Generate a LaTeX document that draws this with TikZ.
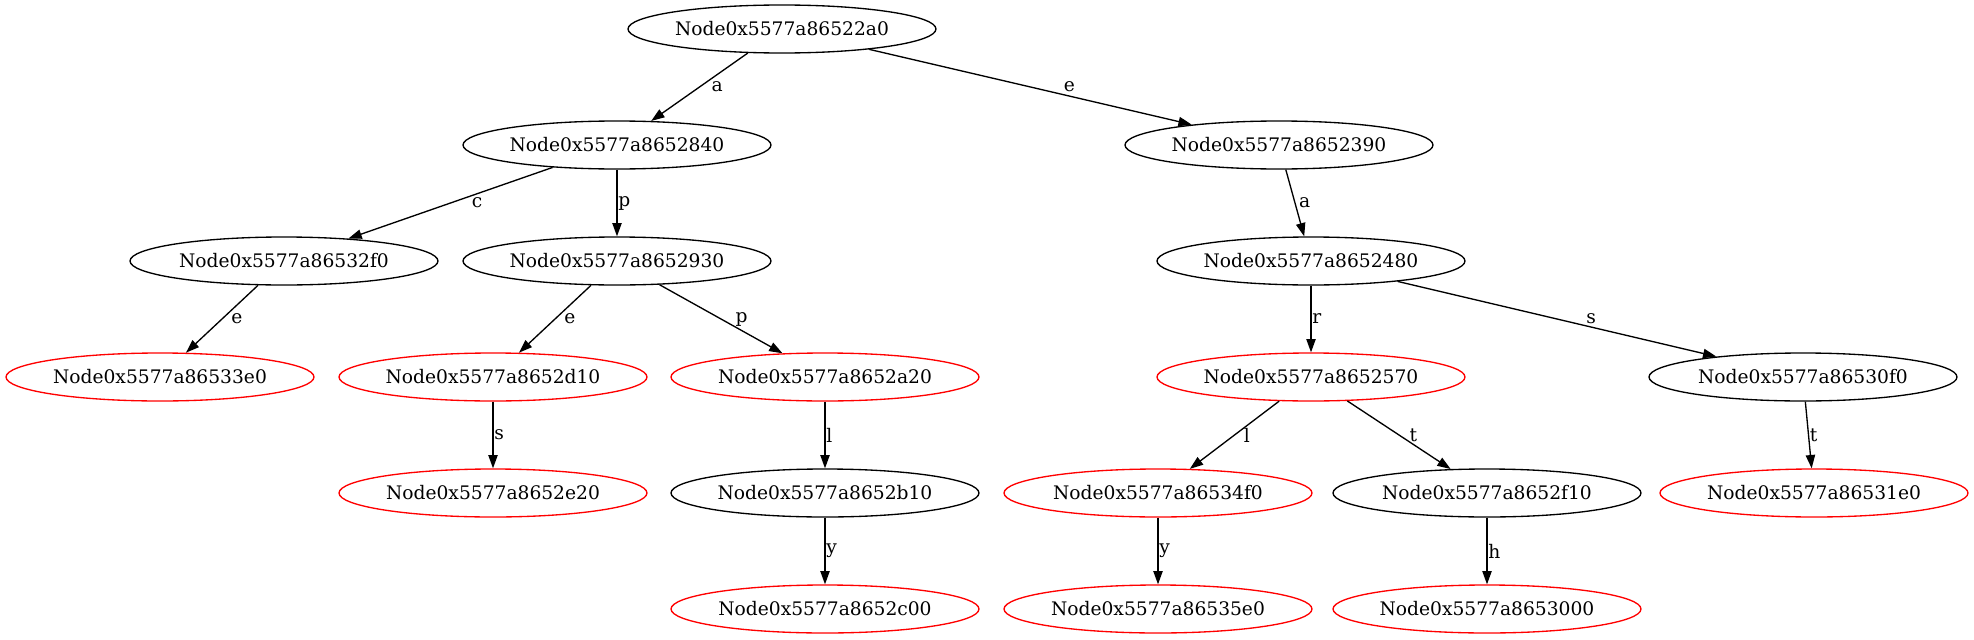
\documentclass[tikz,border=0pt]{standalone}
\usepackage{fontspec}
\setmainfont{DejaVu Serif}
\usetikzlibrary{arrows.meta,shapes.geometric}

\begin{document}
\begin{tikzpicture}[x=0.75pt,y=-0.75pt, every node/.style={font=\fontsize{14}{16}\selectfont},
 trie/.style={draw,ellipse,line width=1pt,minimum width=231pt,minimum height=36pt,inner sep=0pt},
 final/.style={trie,draw=red},
 link/.style={line width=1pt,-{Triangle[length=10pt,width=7pt]}},
 lbl/.style={right,inner sep=0.5pt}]
\useasboundingbox (0,0) rectangle (1974,639);
% rank 0
\node[trie] (n22a0) at (782,29) {Node0x5577a86522a0};
% rank 1
\node[trie] (n2840) at (617,145) {Node0x5577a8652840};
\node[trie] (n2390) at (1279,145) {Node0x5577a8652390};
% rank 2
\node[trie] (n32f0) at (284,261) {Node0x5577a86532f0};
\node[trie] (n2930) at (617,261) {Node0x5577a8652930};
\node[trie] (n2480) at (1311,261) {Node0x5577a8652480};
% rank 3
\node[final] (n33e0) at (160,377) {Node0x5577a86533e0};
\node[final] (n2d10) at (493,377) {Node0x5577a8652d10};
\node[final] (n2a20) at (825,377) {Node0x5577a8652a20};
\node[final] (n2570) at (1311,377) {Node0x5577a8652570};
\node[trie] (n30f0) at (1803,377) {Node0x5577a86530f0};
% rank 4
\node[final] (n2e20) at (493,493) {Node0x5577a8652e20};
\node[trie] (n2b10) at (825,493) {Node0x5577a8652b10};
\node[final] (n34f0) at (1158,493) {Node0x5577a86534f0};
\node[trie] (n2f10) at (1487,493) {Node0x5577a8652f10};
\node[final] (n31e0) at (1814,493) {Node0x5577a86531e0};
% rank 5
\node[final] (n2c00) at (825,609) {Node0x5577a8652c00};
\node[final] (n35e0) at (1158,609) {Node0x5577a86535e0};
\node[final] (n3000) at (1487,609) {Node0x5577a8653000};
% transitions
\draw[link] (n22a0) -- node[lbl,xshift=8pt]{a} (n2840);
\draw[link] (n22a0) -- node[lbl,xshift=24pt]{e} (n2390);
\draw[link] (n2840) -- node[lbl,xshift=15pt]{c} (n32f0);
\draw[link] (n2840) -- node[lbl]{p} (n2930);
\draw[link] (n2390) -- node[lbl,xshift=2pt]{a} (n2480);
\draw[link] (n32f0) -- node[lbl,xshift=6pt]{e} (n33e0);
\draw[link] (n2930) -- node[lbl,xshift=6pt]{e} (n2d10);
\draw[link] (n2930) -- node[lbl,xshift=10pt]{p} (n2a20);
\draw[link] (n2480) -- node[lbl]{r} (n2570);
\draw[link] (n2480) -- node[lbl,xshift=21pt]{s} (n30f0);
\draw[link] (n2d10) -- node[lbl]{s} (n2e20);
\draw[link] (n2a20) -- node[lbl]{l} (n2b10);
\draw[link] (n2570) -- node[lbl,xshift=6pt]{l} (n34f0);
\draw[link] (n2570) -- node[lbl,xshift=7pt]{t} (n2f10);
\draw[link] (n30f0) -- node[lbl]{t} (n31e0);
\draw[link] (n2b10) -- node[lbl]{y} (n2c00);
\draw[link] (n34f0) -- node[lbl]{y} (n35e0);
\draw[link] (n2f10) -- node[lbl]{h} (n3000);
\end{tikzpicture}
\end{document}
